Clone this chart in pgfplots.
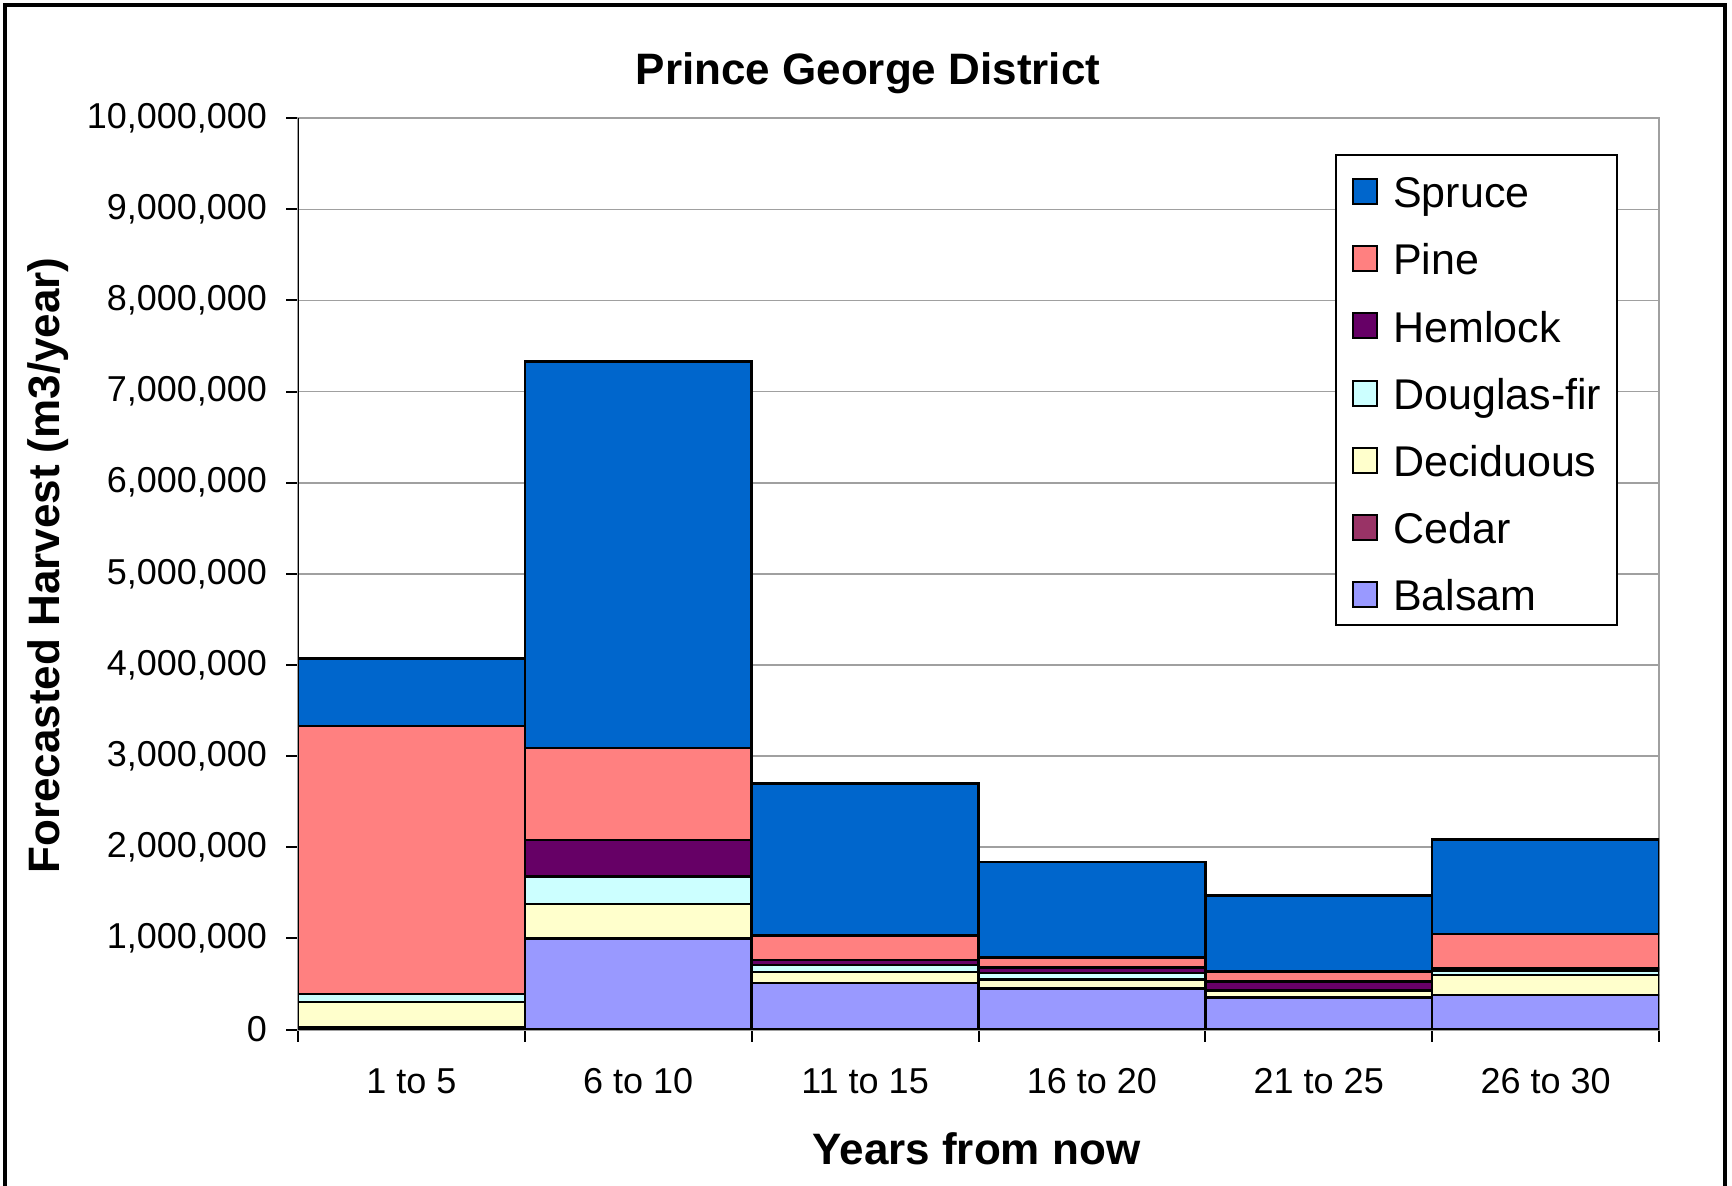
\documentclass[border=0pt]{standalone}
\usepackage{fontspec}
\setmainfont{Liberation Sans}
\usepackage{pgfplots}
\pgfplotsset{compat=1.18}
\definecolor{spruce}{HTML}{0066CC}
\definecolor{pine}{HTML}{FF8080}
\definecolor{hemlock}{HTML}{660066}
\definecolor{douglas}{HTML}{CCFFFF}
\definecolor{deciduous}{HTML}{FFFFCC}
\definecolor{cedar}{HTML}{993366}
\definecolor{balsam}{HTML}{9999FF}
\definecolor{gridgray}{HTML}{A0A0A0}
\begin{document}
\begin{tikzpicture}[x=1pt,y=1pt]
\useasboundingbox (0,0) rectangle (866,592.5);
\draw[line width=2pt] (2.4,-5) -- (2.4,590) -- (862.5,590) -- (862.5,-5);
\node[font=\bfseries\fontsize{22}{26}\selectfont] at (434,556) {Prince George District};
\node[font=\bfseries\fontsize{22}{26}\selectfont, rotate=90] at (24,309.75) {Forecasted Harvest (m3/year)};
\node[font=\bfseries\fontsize{22}{26}\selectfont] at (488.25,18) {Years from now};
\begin{axis}[
  at={(149pt,77.75pt)}, anchor=south west, scale only axis,
  width=680.5pt, height=455.65pt,
  ybar stacked, bar width=1,
  xmin=-0.5, xmax=5.5, ymin=0, ymax=10000000,
  xtick={-0.5,0.5,...,5.5}, x tick label as interval,
  xticklabels={1 to 5,6 to 10,11 to 15,16 to 20,21 to 25,26 to 30},
  ytick={0,1000000,...,10000000},
  scaled y ticks=false,
  yticklabel style={xshift=-6pt, /pgf/number format/.cd, fixed, 1000 sep={,}, precision=0, assume math mode=true},
  xticklabel style={yshift=-10pt},
  tick label style={font=\fontsize{18}{20}\selectfont},
  ymajorgrids, grid style={color=gridgray, line width=0.8pt},
  axis line style={gridgray, line width=1pt},
  tick align=outside, major tick length=6pt, tick style={black, line width=1pt},
  xtick pos=bottom, ytick pos=left,
  reverse legend,
  legend cell align=left,
  legend style={at={(0.970,0.961)}, anchor=north east, draw=black, line width=1pt,
    inner xsep=8pt, inner ysep=0pt, row sep=0pt, column sep=7.5pt,
    font=\fontsize{21.5}{24}\selectfont,
    nodes={inner sep=0pt, text height=26.5pt, text depth=7.1pt}},
  legend image code/.code={\draw[#1, draw=black, line width=1pt] (0pt,-7.8pt) rectangle (12pt,4.7pt);},
  every axis plot/.append style={draw=black, line width=1.2pt},
]
\addplot[fill=balsam] coordinates {(0,20000) (1,1000000) (2,510000) (3,450000) (4,350000) (5,380000)};
\addlegendentry{Balsam}
\addplot[fill=cedar] coordinates {(0,0) (1,0) (2,0) (3,0) (4,0) (5,0)};
\addlegendentry{Cedar}
\addplot[fill=deciduous] coordinates {(0,280000) (1,380000) (2,120000) (3,100000) (4,80000) (5,220000)};
\addlegendentry{Deciduous}
\addplot[fill=douglas] coordinates {(0,90000) (1,300000) (2,80000) (3,70000) (4,5000) (5,45000)};
\addlegendentry{Douglas-fir}
\addplot[fill=hemlock] coordinates {(0,0) (1,400000) (2,50000) (3,60000) (4,90000) (5,25000)};
\addlegendentry{Hemlock}
\addplot[fill=pine] coordinates {(0,2940000) (1,1010000) (2,270000) (3,110000) (4,110000) (5,380000)};
\addlegendentry{Pine}
\addplot[fill=spruce] coordinates {(0,740000) (1,4240000) (2,1670000) (3,1050000) (4,835000) (5,1035000)};
\addlegendentry{Spruce}
\draw[black, line width=1.2pt] (rel axis cs:0,1) -- (rel axis cs:0,0) -- (rel axis cs:1,0);
\end{axis}
\end{tikzpicture}
\end{document}
